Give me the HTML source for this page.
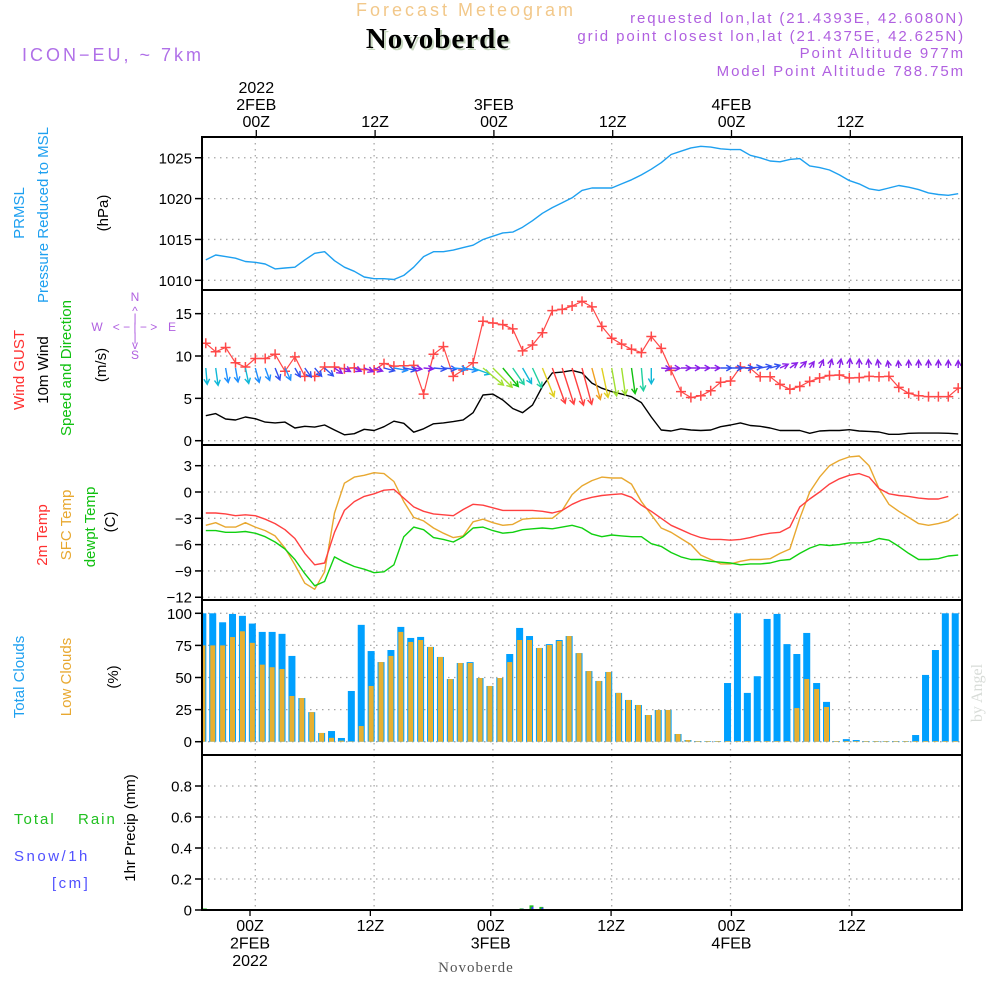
<!DOCTYPE html>
<html><head><meta charset="utf-8"><style>
html,body{margin:0;padding:0;background:#fff;}
svg{display:block;font-family:"Liberation Sans",sans-serif;}
</style></head><body>
<svg id="chart" width="1000" height="1000" viewBox="0 0 1000 1000" xmlns="http://www.w3.org/2000/svg">
<text x="466" y="16" text-anchor="middle" font-size="18" fill="#f2c88a" letter-spacing="3">Forecast Meteogram</text>
<text x="440" y="50" text-anchor="middle" font-family="Liberation Serif,serif" font-weight="bold" font-size="29" fill="#c8d8c0" letter-spacing="1">Novoberde</text>
<text x="438" y="48" text-anchor="middle" font-family="Liberation Serif,serif" font-weight="bold" font-size="29" fill="#000" letter-spacing="1">Novoberde</text>
<text x="22" y="61" font-size="18" fill="#b070e8" letter-spacing="3">ICON−EU, ~ 7km</text>
<g font-size="15" fill="#b060e0" text-anchor="end" letter-spacing="1.9">
<text x="965" y="23">requested lon,lat (21.4393E, 42.6080N)</text>
<text x="965" y="41">grid point closest lon,lat (21.4375E, 42.625N)</text>
<text x="965" y="58">Point Altitude 977m</text>
<text x="965" y="76">Model Point Altitude 788.75m</text>
</g>
<g id="grid"></g>
<g id="marks"></g>
<g id="axes"></g>
<g font-size="15">
<text transform="translate(24,213) rotate(-90)" text-anchor="middle" fill="#1ea0f0">PRMSL</text>
<text transform="translate(48,215) rotate(-90)" text-anchor="middle" fill="#1ea0f0">Pressure Reduced to MSL</text>
<text transform="translate(108,213) rotate(-90)" text-anchor="middle" fill="#000">(hPa)</text>
<text transform="translate(24,370) rotate(-90)" text-anchor="middle" fill="#ff3030">Wind GUST</text>
<text transform="translate(48,370) rotate(-90)" text-anchor="middle" fill="#000">10m Wind</text>
<text transform="translate(71,368) rotate(-90)" text-anchor="middle" fill="#10c010">Speed and Direction</text>
<text transform="translate(106,365) rotate(-90)" text-anchor="middle" fill="#000">(m/s)</text>
<g font-size="12" fill="#b060e0" text-anchor="middle">
<text x="135" y="301">N</text><text x="135" y="315">^</text><text x="135" y="322">|</text>
<text x="97" y="331">W</text><text x="135" y="331">&lt; − | − &gt;</text><text x="172" y="331">E</text>
<text x="135" y="341">|</text><text x="135" y="349">v</text><text x="135" y="359">S</text>
</g>
<text transform="translate(47,535) rotate(-90)" text-anchor="middle" fill="#ff3030">2m Temp</text>
<text transform="translate(71,525) rotate(-90)" text-anchor="middle" fill="#e8a830">SFC Temp</text>
<text transform="translate(95,527) rotate(-90)" text-anchor="middle" fill="#10c010">dewpt Temp</text>
<text transform="translate(115,522) rotate(-90)" text-anchor="middle" fill="#000">(C)</text>
<text transform="translate(24,677) rotate(-90)" text-anchor="middle" fill="#1ea0f0">Total Clouds</text>
<text transform="translate(71,677) rotate(-90)" text-anchor="middle" fill="#e8a830">Low Clouds</text>
<text transform="translate(118,677) rotate(-90)" text-anchor="middle" fill="#000">(%)</text>
<text x="14" y="824" fill="#20c020" letter-spacing="2">Total</text>
<text x="78" y="824" fill="#20c020" letter-spacing="2">Rain</text>
<text x="14" y="861" fill="#5050ff" letter-spacing="2.5">Snow/1h</text>
<text x="52" y="888" fill="#5050ff" letter-spacing="2.5">[cm]</text>
<text transform="translate(135,828) rotate(-90)" text-anchor="middle" fill="#000">1hr Precip (mm)</text>
</g>
<text transform="translate(982,693) rotate(-90)" text-anchor="middle" font-family="Liberation Serif,serif" font-size="16" fill="#d8dcd8">by Angel</text>
<text x="476" y="972" text-anchor="middle" font-family="Liberation Serif,serif" font-size="15" fill="#555" letter-spacing="1">Novoberde</text>
</svg>
<script>
// ---------- data ----------
const startHour = -5;
const pressure = [1012.5,1013.1,1012.9,1012.7,1012.3,1012.2,1012.0,1011.4,1011.5,1011.6,1012.5,1013.3,1013.5,1012.4,1011.6,1011.1,1010.4,1010.2,1010.2,1010.1,1010.6,1011.6,1012.9,1013.5,1013.5,1013.7,1014.0,1014.3,1015.0,1015.4,1015.8,1015.9,1016.5,1017.3,1018.2,1018.9,1019.5,1020.1,1021.0,1021.3,1021.3,1021.3,1021.8,1022.3,1022.9,1023.6,1024.4,1025.4,1025.8,1026.2,1026.4,1026.3,1026.1,1026.0,1026.0,1025.3,1025.0,1024.6,1024.5,1024.8,1024.9,1024.0,1023.8,1023.5,1022.9,1022.2,1021.8,1021.2,1021.0,1021.3,1021.6,1021.4,1021.1,1020.7,1020.5,1020.4,1020.6];
const windSpeed = [2.95,3.2,2.56,2.44,2.8,2.6,2.2,2.1,2.2,1.5,1.7,1.6,1.85,1.26,0.7,0.83,1.35,1.2,1.65,2.3,2.05,1.0,1.4,2.0,2.1,2.25,2.45,3.3,5.4,5.5,4.8,3.8,3.3,4.2,6.4,8.0,8.1,8.3,8.0,6.8,6.2,5.8,5.5,5.2,4.5,2.8,1.26,1.15,1.4,1.26,1.2,1.26,1.65,1.85,2.1,1.8,1.7,1.5,1.2,1.2,1.2,0.87,1.15,1.2,1.2,1.3,1.15,1.1,1.03,0.75,0.75,0.87,0.9,0.9,0.9,0.87,0.8];
const windGust = [11.5,10.5,11.0,9.2,8.7,9.7,9.7,10.2,8.2,9.9,7.6,7.6,8.7,8.7,8.5,8.6,8.4,8.35,9.1,8.8,8.85,8.9,5.5,10.2,11.1,7.6,8.35,9.2,14.1,13.9,13.7,13.2,10.6,11.3,12.75,15.35,15.5,15.9,16.45,15.8,13.5,12.1,11.4,10.8,10.4,12.3,10.9,8.3,5.8,5.1,5.3,5.9,6.9,7.05,8.7,8.55,7.55,7.55,6.65,6.07,6.4,7.0,7.4,7.7,7.75,7.4,7.45,7.6,7.55,7.6,6.3,5.6,5.3,5.2,5.2,5.2,6.2];
const windDir = [175,172,170,170,168,165,160,158,155,150,145,140,132,125,120,115,112,110,105,100,100,98,95,95,95,95,100,110,130,135,140,145,150,155,158,160,162,163,165,165,168,170,172,172,175,180,95,92,90,90,90,90,90,90,88,85,80,75,65,55,45,35,25,15,10,5,0,355,350,350,355,0,0,0,0,0,0];
const temp2m = [-2.4,-2.4,-2.5,-2.7,-2.6,-2.7,-3.1,-3.6,-4.3,-5.3,-7.0,-8.3,-8.1,-4.6,-2.1,-1.1,-0.5,-0.2,0.2,0.3,-0.7,-1.7,-2.2,-2.5,-2.6,-2.7,-2.0,-1.4,-1.5,-1.8,-2.1,-2.1,-2.1,-2.1,-2.2,-2.4,-2.1,-1.4,-0.9,-0.6,-0.4,-0.3,-0.2,-0.6,-1.5,-2.2,-3.0,-3.8,-4.3,-4.8,-5.2,-5.4,-5.4,-5.5,-5.4,-5.2,-4.9,-4.7,-4.6,-4.0,-1.7,-0.8,0.0,0.9,1.5,1.9,2.1,1.7,0.4,-0.2,-0.4,-0.5,-0.7,-0.8,-0.8,-0.5];
const tempSfc = [-3.8,-3.5,-4.0,-4.0,-3.5,-4.0,-4.4,-5.0,-6.4,-8.3,-10.4,-11.1,-9.1,-2.4,1.0,1.7,1.9,2.2,2.1,1.2,-1.1,-2.9,-3.3,-4.1,-4.7,-5.2,-5.0,-3.4,-3.1,-3.5,-3.8,-3.7,-3.1,-3.0,-3.0,-3.0,-2.1,-0.3,0.7,1.3,1.7,1.6,1.6,0.9,-1.1,-2.6,-4.1,-4.6,-5.3,-6.0,-7.2,-7.7,-8.2,-8.2,-7.9,-7.7,-7.7,-7.6,-7.0,-6.5,-3.0,0.0,1.7,3.0,3.6,4.0,4.1,3.0,0.4,-1.4,-2.2,-2.9,-3.6,-3.8,-3.6,-3.3,-2.5];
const tempDew = [-4.4,-4.4,-4.6,-4.6,-4.5,-4.7,-5.1,-5.7,-6.5,-7.7,-9.3,-10.7,-10.2,-7.4,-8.0,-8.5,-8.8,-9.2,-9.1,-8.3,-5.1,-4.0,-4.3,-5.2,-5.4,-5.7,-5.1,-4.1,-4.0,-4.4,-4.7,-4.6,-4.3,-4.2,-4.1,-4.2,-4.0,-3.8,-4.1,-4.8,-5.1,-4.9,-5.0,-5.1,-5.1,-5.9,-6.2,-6.9,-7.4,-7.7,-7.7,-7.9,-8.0,-8.1,-8.3,-8.2,-8.2,-8.1,-7.8,-7.7,-7.0,-6.4,-6.0,-6.1,-6.0,-5.8,-5.8,-5.7,-5.3,-5.5,-6.2,-7.0,-7.7,-7.7,-7.6,-7.3,-7.2];
const cloudStart = -5.3;
const totalClouds = [100,100,93,99.5,98,92,85.5,85.5,84,66.8,34,23,6.8,8.3,2.9,39.5,91,70.6,62,71.4,89.4,80.8,81.6,73.8,66,48.8,61.3,62,49.6,43.4,49.6,68.3,88.6,82.3,73,76,79.2,82.3,69,55,47.3,54.3,38,32.5,28.6,20.8,24.7,24.7,6,1.3,0.5,0.5,0.5,45.7,100,38,51,95.6,99.5,76,68.3,84.7,45.7,31,0.5,2,1.3,0.5,0.5,0.5,0.5,0.5,5.2,52,71.4,100,100];
const lowClouds = [75,75,75,81.5,86,77,60,58,56.6,35.6,34,23,6.8,3,0.8,0.3,12.2,43.4,62,66.8,85.5,77.7,79.2,73.8,66,48.8,61.3,61.3,49.6,43.4,49.6,62,79.2,79.2,73,75.3,78.4,82.3,69,55,47.3,54.3,38,32.5,28.6,20.8,24.7,24.7,6,1.3,0.5,0.5,0.5,0.5,0.5,0.5,0.5,0.5,0.5,0.5,26.2,48.8,41,27,0.5,0.5,0.5,0.5,0.5,0.5,0.5,0.5,0.5,0.5,0.5,0.5,0.5];
const precipHours = [-5,-4,-3,27,28,29];
const rainValues = [0.01,0.005,0.005,0.01,0.03,0.02];
const snowValues = [0.005,0.003,0.003,0.008,0.02,0.015];
const pressureTicks = [1010,1015,1020,1025];
const windTicks = [0,5,10,15];
const tempTicks = [3,0,-3,-6,-9,-12];
const cloudTicks = [0,25,50,75,100];
const precipTicks = [0,0.2,0.4,0.6,0.8];
const precipTickLabels = ["0","0.2","0.4","0.6","0.8"];
const timeTickHours = [0,12,24,36,48,60];
const topTickLabels = [["2022","2FEB","00Z"],["12Z"],["3FEB","00Z"],["12Z"],["4FEB","00Z"],["12Z"]];
const bottomTickLabels = [["00Z","2FEB","2022"],["12Z"],["00Z","3FEB"],["12Z"],["00Z","4FEB"],["12Z"]];

// ---------- scales ----------
const L=202, R=962;
const x = h => 255.3 + 9.9*h;
const xb = h => 250 + 10.03*h;
const yP = v => 280.3 - (v-1010)*8.17;
const yW = v => 440.7 - v*8.47;
const yT = v => 492 - v*8.77;
const yC = v => 741.7 - v*1.284;
const yR = v => 910 - v*155;
const panels = [[137,290],[290,445],[445,600],[600,755],[755,910]];

const NS="http://www.w3.org/2000/svg";
function mk(tag, attrs, parent){const e=document.createElementNS(NS,tag);for(const k in attrs)e.setAttribute(k,attrs[k]);parent.appendChild(e);return e;}
const grid=document.getElementById('grid'), marks=document.getElementById('marks'), axes=document.getElementById('axes');

const defs=mk('defs',{},document.getElementById('chart'));
const cp=mk('clipPath',{id:'plotclip'},defs);
mk('rect',{x:L,y:137,width:R-L,height:773},cp);
marks.setAttribute('clip-path','url(#plotclip)');

const dash={stroke:'#a8a8a8','stroke-width':1.3,'stroke-dasharray':'1.5 4.5',fill:'none'};
timeTickHours.forEach(h=>{
  const g=mk('line',Object.assign({x1:x(h),x2:x(h),y1:137,y2:910},dash),grid);
  
  
});
function hgrid(ticks,ys,labels){
  ticks.forEach((t,i)=>{
    const g=mk('line',Object.assign({x1:L,x2:R,y1:ys(t),y2:ys(t)},dash),grid);
    
    
    const tk=mk('line',{x1:195,x2:L,y1:ys(t),y2:ys(t),stroke:'#000','stroke-width':1.5},axes);
    
    
    const tx=mk('text',{x:192,y:ys(t)+5.5,'text-anchor':'end','font-size':15,fill:'#000'},axes);
    
    
    tx.textContent = labels? labels[i] : String(t).replace('-','−');
  });
}
hgrid(pressureTicks,yP);
hgrid(windTicks,yW);
hgrid(tempTicks,yT);
hgrid(cloudTicks,yC);
hgrid(precipTicks,yR,precipTickLabels);

totalClouds.forEach((v,i)=>{
  const cx=x(cloudStart+i);
  const b=mk('rect',{x:cx-3.5,y:yC(v),width:7,height:yC(0)-yC(v),fill:'#00a0ff'},marks);
  
  
});
lowClouds.forEach((v,i)=>{
  const cx=x(cloudStart+i);
  const b=mk('rect',{x:cx-2.5,y:yC(v),width:5,height:yC(0)-yC(v),fill:'#e8b030'},marks);
  
  
});

precipHours.forEach((h,i)=>{
  const b=mk('rect',{x:x(h)-3,y:yR(rainValues[i]),width:4,height:yR(0)-yR(rainValues[i]),fill:'#20c020'},marks);
  
  
  const s=mk('rect',{x:x(h)-1,y:yR(snowValues[i]),width:2,height:yR(0)-yR(snowValues[i]),fill:'#4040ff'},marks);
  
  
});

function line(arr, ys, color, name, w){
  const pts=arr.map((v,i)=>x(startHour+i).toFixed(1)+','+ys(v).toFixed(1)).join(' ');
  const p=mk('polyline',{points:pts,fill:'none',stroke:color,'stroke-width':w||1.4,'stroke-linejoin':'round'},marks);
  
  
  return p;
}
line(pressure,yP,'#1ea0f0','pressure-line');
line(tempSfc,yT,'#e8a830','sfc-temp-line');
line(temp2m,yT,'#ff4040','temp-2m-line');
line(tempDew,yT,'#10d010','dewpoint-line');
line(windSpeed,yW,'#000','wind-speed-line');
line(windGust,yW,'#ff4848','wind-gust-line',1.2);
windGust.forEach((v,i)=>{
  const cx=x(startHour+i), cy=yW(v);
  const p=mk('path',{d:`M${cx-5},${cy}H${cx+5}M${cx},${cy-5}V${cy+5}`,stroke:'#ff4848','stroke-width':1.5},marks);
  
  
});

function windColor(v){
  if(v<1.5) return '#8a20e8';
  if(v<2.2) return '#3050f0';
  if(v<2.8) return '#1e90ff';
  if(v<3.6) return '#10b8d8';
  if(v<4.6) return '#20d0a0';
  if(v<5.3) return '#10c010';
  if(v<6.0) return '#a0e030';
  if(v<6.6) return '#e0d020';
  if(v<7.5) return '#f0a020';
  return '#ff4040';
}
windDir.forEach((d,i)=>{
  const v=windSpeed[i];
  const len=4+4.2*v, r=d*Math.PI/180;
  const tx=x(startHour+i), ty=368;
  const hx=tx+len*Math.sin(r), hy=ty-len*Math.cos(r);
  const a1=r+Math.PI-0.5, a2=r+Math.PI+0.5;
  const c=windColor(v);
  const p=mk('path',{d:`M${tx.toFixed(1)},${ty}L${hx.toFixed(1)},${hy.toFixed(1)}M${(hx+6*Math.sin(a1)).toFixed(1)},${(hy-6*Math.cos(a1)).toFixed(1)}L${hx.toFixed(1)},${hy.toFixed(1)}L${(hx+6*Math.sin(a2)).toFixed(1)},${(hy-6*Math.cos(a2)).toFixed(1)}`,stroke:c,'stroke-width':1.4,fill:'none'},marks);
  
  
});

panels.forEach(([t,b])=>{
  const r=mk('rect',{x:L,y:t,width:R-L,height:b-t,fill:'none',stroke:'#000','stroke-width':2},axes);
  
  
});

timeTickHours.forEach((h,i)=>{
  const tk=mk('line',{x1:x(h)+1,x2:x(h)+1,y1:130,y2:137,stroke:'#000','stroke-width':1.3},axes);
  
  
  const lab=topTickLabels[i];
  lab.forEach((s,j)=>{
    const t=mk('text',{x:x(h)+1,y:127-(lab.length-1-j)*17,'text-anchor':'middle','font-size':16,fill:'#000'},axes);
    
    
    t.textContent=s;
  });
  const bk=mk('line',{x1:xb(h),x2:xb(h),y1:910,y2:916,stroke:'#000','stroke-width':1.3},axes);
  
  
  bottomTickLabels[i].forEach((s,j)=>{
    const t=mk('text',{x:xb(h),y:931+j*17.5,'text-anchor':'middle','font-size':16,fill:'#000'},axes);
    
    
    t.textContent=s;
  });
});
</script>
</body></html>
